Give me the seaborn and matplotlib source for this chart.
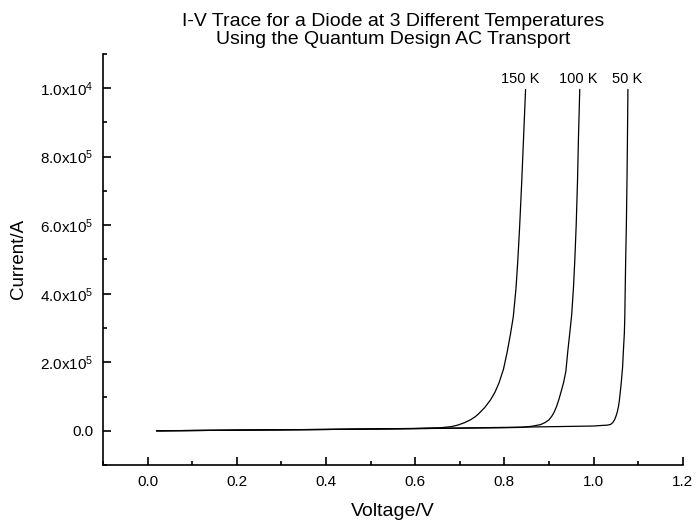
#!/usr/bin/env python3
"""
I-V trace of a diode at three temperatures.
"""
import matplotlib
matplotlib.use("Agg")
import matplotlib.pyplot as plt
from matplotlib.ticker import MultipleLocator, FixedLocator, FixedFormatter
import pandas as pd
import seaborn as sns

# values
v_150k = [0.02, 0.2, 0.4, 0.6, 0.657, 0.68, 0.695, 0.71, 0.724, 0.735,
          0.742, 0.756, 0.769, 0.779, 0.788, 0.798, 0.806, 0.814, 0.820,
          0.826, 0.830, 0.834, 0.839, 0.843, 0.8475]
i_150k = [0.0, 2.0e-7, 4.0e-7, 7.0e-7, 9.0e-7, 1.2e-6, 1.65e-6, 2.35e-6,
          3.21e-6, 4.15e-6, 4.95e-6, 6.8e-6, 9.05e-6, 1.13e-5, 1.40e-5,
          1.8e-5, 2.28e-5, 2.85e-5, 3.33e-5, 4.15e-5, 4.95e-5, 5.9e-5,
          7.3e-5, 8.55e-5, 9.96e-5]

v_100k = [0.02, 0.2, 0.4, 0.6, 0.8, 0.836, 0.86, 0.881, 0.891, 0.900,
          0.906, 0.911, 0.917, 0.922, 0.928, 0.933, 0.938, 0.942, 0.947,
          0.951, 0.955, 0.958, 0.961, 0.964, 0.966, 0.969]
i_100k = [0.0, 2.0e-7, 4.0e-7, 6.5e-7, 9.0e-7, 1.0e-6, 1.3e-6, 1.8e-6,
          2.4e-6, 3.21e-6, 4.2e-6, 5.3e-6, 7.1e-6, 9.05e-6, 1.18e-5,
          1.42e-5, 1.75e-5, 2.3e-5, 2.9e-5, 3.4e-5, 4.2e-5, 5.0e-5,
          6.0e-5, 7.3e-5, 8.5e-5, 9.96e-5]

v_50k = [0.02, 0.2, 0.4, 0.6, 0.8, 1.0, 1.016, 1.03, 1.038, 1.043, 1.047,
         1.050, 1.053, 1.056, 1.058, 1.060, 1.062, 1.065, 1.067, 1.069,
         1.070, 1.071, 1.072, 1.0735, 1.075, 1.076, 1.077]
i_50k = [0.0, 2.0e-7, 4.0e-7, 6.5e-7, 1.0e-6, 1.4e-6, 1.55e-6, 1.65e-6,
         1.85e-6, 2.4e-6, 3.21e-6, 4.2e-6, 5.4e-6, 7.2e-6, 9.05e-6,
         1.15e-5, 1.40e-5, 1.85e-5, 2.37e-5, 2.85e-5, 3.33e-5, 4.2e-5,
         5.0e-5, 6.0e-5, 7.4e-5, 8.6e-5, 9.96e-5]

temps = ["150 K", "100 K", "50 K"]
label_x = [0.836, 0.965, 1.075]

x_ticks = [0.0, 0.2, 0.4, 0.6, 0.8, 1.0, 1.2]
x_labels = ["0.0", "0.2", "0.4", "0.6", "0.8", "1.0", "1.2"]
y_ticks = [0.0, 2e-5, 4e-5, 6e-5, 8e-5, 1e-4]
y_labels = ["0.0", r"2.0x10$^{5}$", r"4.0x10$^{5}$", r"6.0x10$^{5}$",
            r"8.0x10$^{5}$", r"1.0x10$^{4}$"]

frames = []
for name, v, i in zip(temps, [v_150k, v_100k, v_50k], [i_150k, i_100k, i_50k]):
    frames.append(pd.DataFrame({"Voltage": v, "Current": i, "T": name}))
df = pd.concat(frames, ignore_index=True)

sns.set_style("ticks", {"axes.edgecolor": "black", "text.color": "black",
                        "xtick.color": "black", "ytick.color": "black",
                        "axes.labelcolor": "black"})
plt.rcParams["font.family"] = ["Liberation Sans", "DejaVu Sans"]
plt.rcParams["mathtext.fontset"] = "custom"
plt.rcParams["mathtext.rm"] = "Liberation Sans"
plt.rcParams["mathtext.it"] = "Liberation Sans"

fig = plt.figure(figsize=(6.96, 5.22), dpi=100)
ax = fig.add_axes([0.148, 0.109, 0.833, 0.788])

sns.lineplot(
    data=df, x="Voltage", y="Current", hue="T",
    palette=["black"] * 3, sort=False, estimator=None,
    linewidth=0.9, legend=False, ax=ax
)

for name, x in zip(temps, label_x):
    ax.text(x, 1.005e-4, name, ha="center", va="bottom", fontsize=10.5)

ax.set_xlim(-0.1, 1.2)
ax.set_ylim(-1e-5, 1.1e-4)
ax.xaxis.set_major_locator(FixedLocator(x_ticks))
ax.xaxis.set_major_formatter(FixedFormatter(x_labels))
ax.xaxis.set_minor_locator(MultipleLocator(0.1))
ax.yaxis.set_major_locator(FixedLocator(y_ticks))
ax.yaxis.set_major_formatter(FixedFormatter(y_labels))
ax.yaxis.set_minor_locator(MultipleLocator(1e-5))

ax.tick_params(which="both", direction="in", width=1.2, labelsize=11,
               pad=7)
ax.tick_params(which="major", length=6)
ax.tick_params(which="minor", length=3)
sns.despine(ax=ax)
for s in ["left", "bottom"]:
    ax.spines[s].set_linewidth(1.2)

ax.set_xlabel("Voltage/V", fontsize=14, labelpad=10)
ax.set_ylabel("Current/A", fontsize=13.5, labelpad=9)
ax.set_title("I-V Trace for a Diode at 3 Different Temperatures\n"
             "Using the Quantum Design AC Transport", fontsize=14, pad=7,
             linespacing=1.1)

plt.savefig("out.png", dpi=100)
